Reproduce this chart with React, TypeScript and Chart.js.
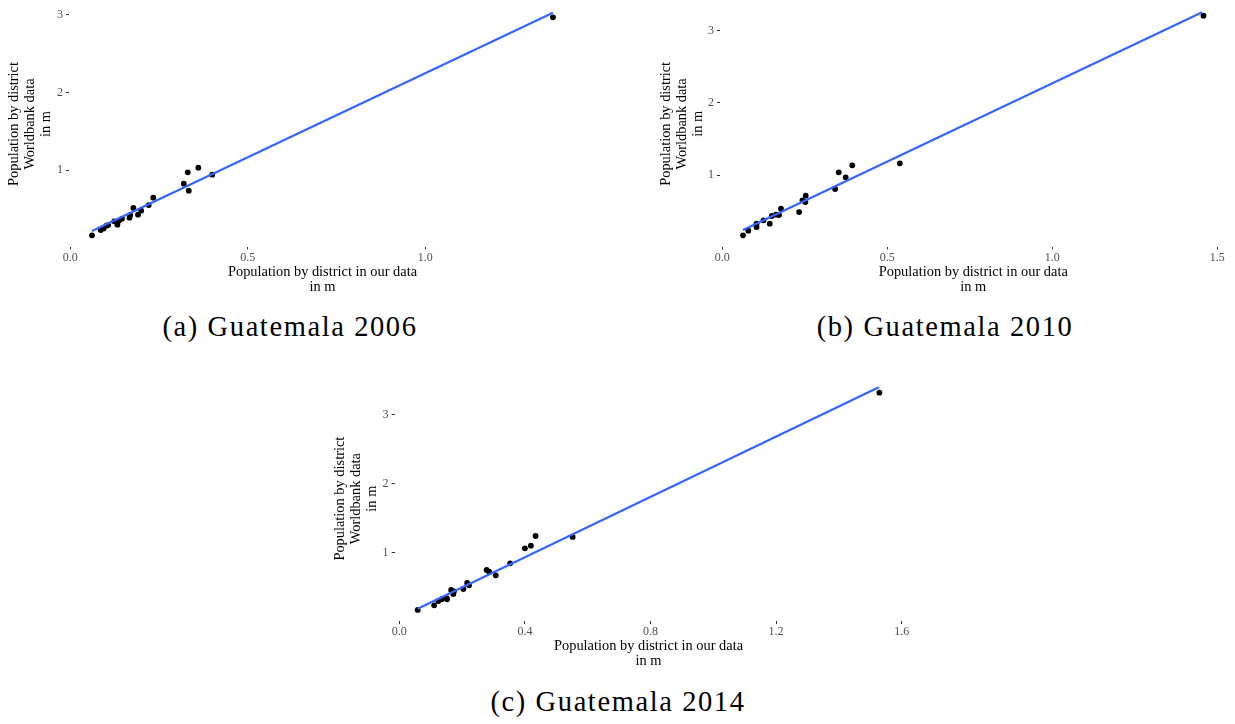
import React, { useEffect, useRef } from "react";
import { Chart, registerables } from "chart.js";

Chart.register(...registerables);

// ---------- data (millions) ----------
const aX = [0.0615, 0.086, 0.094, 0.102, 0.107, 0.124, 0.133, 0.137, 0.146, 0.167, 0.169, 0.178, 0.191, 0.2, 0.221, 0.234, 0.32, 0.331, 0.334, 0.361, 0.4, 1.36];
const aY = [0.157, 0.226, 0.247, 0.282, 0.29, 0.338, 0.295, 0.346, 0.372, 0.385, 0.419, 0.51, 0.424, 0.475, 0.548, 0.643, 0.824, 0.97, 0.733, 1.03, 0.94, 2.97];
const aLineX = [0.0615, 1.36];
const aLineY = [0.213, 3.03];

const bX = [0.063, 0.079, 0.104, 0.104, 0.125, 0.144, 0.15, 0.163, 0.172, 0.178, 0.233, 0.243, 0.252, 0.253, 0.342, 0.353, 0.374, 0.394, 0.538, 1.458];
const bY = [0.164, 0.229, 0.326, 0.279, 0.372, 0.326, 0.432, 0.45, 0.446, 0.533, 0.487, 0.649, 0.626, 0.714, 0.806, 1.037, 0.968, 1.134, 1.162, 3.208];
const bLineX = [0.063, 1.454];
const bLineY = [0.238, 3.254];

const cX = [0.0585, 0.111, 0.124, 0.135, 0.15, 0.152, 0.165, 0.172, 0.174, 0.204, 0.216, 0.222, 0.278, 0.286, 0.307, 0.353, 0.4, 0.419, 0.434, 0.552, 1.529];
const cY = [0.174, 0.242, 0.304, 0.329, 0.348, 0.329, 0.464, 0.406, 0.444, 0.478, 0.565, 0.531, 0.754, 0.729, 0.676, 0.85, 1.068, 1.106, 1.246, 1.232, 3.324];
const cLineX = [0.0585, 1.527];
const cLineY = [0.193, 3.401];

const xTicksA = [0, 0.5, 1.0];
const xTicksB = [0, 0.5, 1.0, 1.5];
const xTicksC = [0, 0.4, 0.8, 1.2, 1.6];
const yTicks = [1, 2, 3];

const xTitle = ["Population by district in our data", "in m"];
const yTitle = ["Population by district", "Worldbank data", "in m"];
const captions = ["(a) Guatemala 2006", "(b) Guatemala 2010", "(c) Guatemala 2014"];

const SERIF = "'Liberation Serif', 'Times New Roman', serif";

type Box = {
  left: number; top: number; width: number; height: number;
  plotLeft: number; plotRight: number; plotTop: number; plotBottom: number;
  yTitlePad: number; xTitlePad: number;
};

function expand(vals: number[]) {
  const mn = Math.min(...vals);
  const mx = Math.max(...vals);
  const d = (mx - mn) * 0.05;
  return [mn - d, mx + d];
}

function Panel(props: {
  xs: number[]; ys: number[]; lx: number[]; ly: number[]; xTicks: number[]; box: Box;
}) {
  const ref = useRef<HTMLCanvasElement | null>(null);
  const { xs, ys, lx, ly, xTicks, box } = props;
  useEffect(() => {
    if (!ref.current) return;
    const [xmin, xmax] = expand([...xs, ...lx]);
    const [ymin, ymax] = expand([...ys, ...ly]);
    const chart = new Chart(ref.current, {
      type: "scatter",
      data: {
        datasets: [
          {
            data: lx.map((x, i) => ({ x, y: ly[i] })),
            showLine: true,
            borderColor: "#3366FF",
            borderWidth: 2.2,
            pointRadius: 0,
            fill: false,
            clip: false,
          },
          {
            data: xs.map((x, i) => ({ x, y: ys[i] })),
            backgroundColor: "#000000",
            borderColor: "#000000",
            borderWidth: 0,
            pointRadius: 2.9,
            clip: false,
          },
        ],
      },
      options: {
        animation: false,
        responsive: false,
        events: [],
        layout: {
          autoPadding: false,
          padding: {
            left: 0,
            right: box.width - (box.plotRight - box.left),
            top: box.plotTop - box.top,
            bottom: 0,
          },
        },
        plugins: { legend: { display: false }, tooltip: { enabled: false } },
        scales: {
          x: {
            type: "linear",
            position: "bottom",
            min: xmin,
            max: xmax,
            afterBuildTicks: (s: any) => {
              s.ticks = xTicks.map((v) => ({ value: v }));
            },
            afterFit: (s: any) => {
              s.height = box.height - (box.plotBottom - box.top);
              s.paddingLeft = 0;
              s.paddingRight = 0;
              s.paddingTop = 0;
              s.paddingBottom = 0;
            },
            grid: {
              display: true,
              drawOnChartArea: false,
              drawTicks: true,
              tickLength: 3,
              tickColor: "#333333",
              tickWidth: 1,
            },
            border: { display: false },
            ticks: {
              padding: 1,
              color: "#4D4D4D",
              font: { family: SERIF, size: 12 },
              maxRotation: 0,
              autoSkip: false,
              callback: (v: any) => Number(v).toFixed(1),
            },
            title: {
              display: true,
              text: xTitle,
              color: "#000000",
              font: { family: SERIF, size: 14.4, lineHeight: 15 / 14.4 },
              padding: { top: 0, bottom: box.xTitlePad },
            },
          },
          y: {
            type: "linear",
            position: "left",
            min: ymin,
            max: ymax,
            afterBuildTicks: (s: any) => {
              s.ticks = yTicks.map((v) => ({ value: v }));
            },
            afterFit: (s: any) => {
              s.width = box.plotLeft - box.left;
              s.paddingLeft = 0;
              s.paddingRight = 0;
              s.paddingTop = 0;
              s.paddingBottom = 0;
            },
            grid: {
              display: true,
              drawOnChartArea: false,
              drawTicks: true,
              tickLength: 3,
              tickColor: "#333333",
              tickWidth: 1,
            },
            border: { display: false },
            ticks: {
              padding: 3,
              color: "#4D4D4D",
              font: { family: SERIF, size: 12 },
              autoSkip: false,
              callback: (v: any) => String(Math.round(Number(v))),
            },
            title: {
              display: true,
              text: yTitle,
              color: "#000000",
              font: { family: SERIF, size: 14.4, lineHeight: 16 / 14.4 },
              padding: { top: box.yTitlePad, bottom: 0 },
            },
          },
        },
      },
    } as any);
    return () => chart.destroy();
  }, []);
  return (
    <canvas
      ref={ref}
      width={box.width}
      height={box.height}
      style={{ position: "absolute", left: box.left, top: box.top, width: box.width, height: box.height }}
    />
  );
}

const boxA: Box = { left: 0, top: 0, width: 600, height: 300, plotLeft: 69, plotRight: 576, plotTop: 1.5, plotBottom: 246.5, yTitlePad: 6.5, xTitlePad: 5.5 };
const boxB: Box = { left: 640, top: 0, width: 595, height: 300, plotLeft: 720, plotRight: 1226.5, plotTop: 1.2, plotBottom: 246.5, yTitlePad: 17.8, xTitlePad: 5.5 };
const boxC: Box = { left: 320, top: 370, width: 600, height: 305, plotLeft: 394.6, plotRight: 902.5, plotTop: 376.2, plotBottom: 621.1, yTitlePad: 11.9, xTitlePad: 5.8 };

function Caption(props: { text: string; cx: number; top: number }) {
  return (
    <div
      style={{
        position: "absolute",
        left: props.cx - 200,
        width: 400,
        top: props.top,
        textAlign: "center",
        fontFamily: SERIF,
        fontSize: 28.5,
        letterSpacing: 1.6,
        lineHeight: "34px",
        color: "#000",
        whiteSpace: "nowrap",
      }}
    >
      {props.text}
    </div>
  );
}

export default function App() {
  return (
    <div style={{ position: "absolute", left: 0, top: 0, width: 1235, height: 724, background: "#fff", overflow: "hidden" }}>
      <Panel xs={aX} ys={aY} lx={aLineX} ly={aLineY} xTicks={xTicksA} box={boxA} />
      <Panel xs={bX} ys={bY} lx={bLineX} ly={bLineY} xTicks={xTicksB} box={boxB} />
      <Panel xs={cX} ys={cY} lx={cLineX} ly={cLineY} xTicks={xTicksC} box={boxC} />
      <Caption text={captions[0]} cx={290} top={310} />
      <Caption text={captions[1]} cx={945} top={310} />
      <Caption text={captions[2]} cx={618} top={685} />
    </div>
  );
}
